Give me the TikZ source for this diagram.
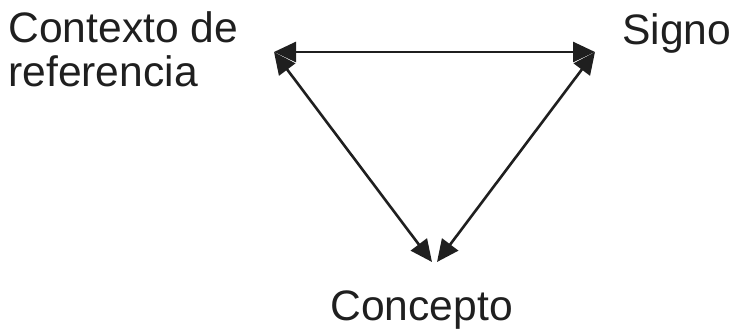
\documentclass[tikz,border=0pt]{standalone}
\usepackage{fontspec}
\setmainfont{Liberation Sans}
\usetikzlibrary{arrows.meta}

\tikzset{
  label/.style={inner sep=0pt, anchor=base west, align=left,
    text=black!88, font=\fontsize{21.3}{22}\selectfont},
  link/.style={line width=1.3pt, black!88,
    {Triangle[length=11pt,width=10pt]}-{Triangle[length=11pt,width=10pt]}}
}

\begin{document}
\begin{tikzpicture}[x=0.5pt, y=-0.5pt]
  \useasboundingbox (0,0) rectangle (735,331);
  % labels
  \node[label] (ref) at (8,87) {Contexto de\\referencia};
  \node[label] (sig) at (622,45) {Signo};
  \node[label] (con) at (330,321) {Concepto};
  % corners of the triangle
  \coordinate (r) at (274,52);
  \coordinate (s) at (595,52);
  \coordinate (c1) at (432,262);
  \coordinate (c2) at (437,262);
  \draw[link] (r) -- (s);
  \draw[link] (r) -- (c1);
  \draw[link] (s) -- (c2);
\end{tikzpicture}
\end{document}
